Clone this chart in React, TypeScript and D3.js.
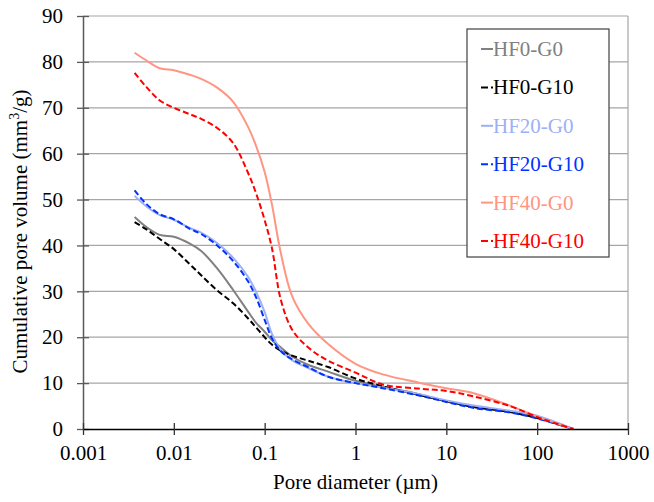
import React, { useEffect, useRef } from "react";
import * as d3 from "d3";

// pore diameters (µm) where the curves were read
const diameters = [
  0.0037, 0.005, 0.007, 0.01, 0.015, 0.02, 0.03, 0.045, 0.065, 0.08, 0.1,
  0.12, 0.15, 0.2, 0.3, 0.5, 1, 2, 5, 10, 20, 50, 100, 150, 250,
];

const hf0g0 = [
  46.2, 44.0, 42.3, 41.9, 40.4, 38.8, 35.0, 30.3, 25.7, 23.2, 21.2, 19.4,
  17.8, 15.8, 14.0, 12.5, 10.5, 9.2, 7.6, 6.0, 4.9, 3.8, 2.6, 1.5, 0,
];
const hf0g10 = [
  45.1, 43.5, 41.4, 39.2, 35.9, 33.5, 30.2, 27.4, 24.2, 22.2, 20.0, 18.4,
  17.1, 16.0, 14.9, 13.5, 11.0, 9.3, 7.4, 6.1, 4.8, 3.7, 2.4, 1.4, 0,
];
const hf20g0 = [
  50.8, 48.5, 46.6, 45.6, 43.8, 42.8, 40.5, 37.3, 33.3, 30.0, 25.5, 20.8,
  17.3, 15.0, 13.3, 11.4, 10.0, 9.0, 7.6, 6.2, 5.1, 4.0, 2.9, 1.7, 0,
];
const hf20g10 = [
  52.0, 49.0, 46.8, 45.7, 43.6, 42.5, 40.0, 36.6, 32.3, 28.8, 23.8, 19.8,
  17.0, 15.2, 13.5, 11.4, 10.0, 8.9, 7.3, 5.9, 4.6, 3.6, 2.3, 1.3, 0,
];
const hf40g0 = [
  82.0, 80.3, 78.6, 78.2, 77.2, 76.3, 74.4, 71.3, 66.0, 61.8, 56.0, 49.0,
  38.5, 29.0, 23.0, 18.5, 14.2, 11.9, 10.1, 8.9, 7.8, 5.1, 2.7, 1.5, 0,
];
const hf40g10 = [
  77.6, 74.5, 71.6, 70.0, 68.6, 67.6, 65.6, 62.3, 56.0, 51.5, 45.5, 39.5,
  28.3, 21.7, 17.8, 14.9, 12.3, 9.7, 8.8, 8.3, 7.1, 5.0, 2.6, 1.4, 0,
];

const seriesNames = ["HF0-G0", "HF0-G10", "HF20-G0", "HF20-G10", "HF40-G0", "HF40-G10"];
const seriesValues = [hf0g0, hf0g10, hf20g0, hf20g10, hf40g0, hf40g10];
const seriesColors = ["#808080", "#000000", "#9db0f7", "#0033ff", "#ff9582", "#ff0000"];
const seriesDashed = [false, true, false, true, false, true];

const xTicks = [0.001, 0.01, 0.1, 1, 10, 100, 1000];
const yTicks = [0, 10, 20, 30, 40, 50, 60, 70, 80, 90];

const FONT = '"Liberation Serif", "Times New Roman", serif';

const Chart = () => {
  const ref = useRef<SVGSVGElement>(null);

  useEffect(() => {
    const width = 654;
    const height = 502;
    const margin = { top: 16, right: 26, bottom: 73, left: 83 };
    const innerW = width - margin.left - margin.right;
    const innerH = height - margin.top - margin.bottom;

    const svg = d3.select(ref.current);
    svg.selectAll("*").remove();
    svg.style("font-family", FONT);

    const g = svg
      .append("g")
      .attr("transform", `translate(${margin.left},${margin.top})`);

    const x = d3.scaleLog().domain([0.001, 1000]).range([0, innerW]);
    const y = d3.scaleLinear().domain([0, 90]).range([innerH, 0]);

    // horizontal grid lines
    g.append("g")
      .selectAll("line")
      .data(yTicks.filter((t) => t > 0))
      .join("line")
      .attr("x1", 0)
      .attr("x2", innerW)
      .attr("y1", (d) => y(d))
      .attr("y2", (d) => y(d))
      .attr("stroke", "#a6a6a6")
      .attr("stroke-width", 1.2);

    // right border of plot area
    g.append("line")
      .attr("x1", innerW)
      .attr("x2", innerW)
      .attr("y1", 0)
      .attr("y2", innerH)
      .attr("stroke", "#a6a6a6")
      .attr("stroke-width", 1.2);

    // curves
    const line = d3
      .line<number>()
      .x((_, i) => x(diameters[i]))
      .y((d) => y(d))
      .curve(d3.curveCatmullRom.alpha(0.5));

    seriesValues.forEach((vals, i) => {
      g.append("path")
        .datum(vals)
        .attr("d", line)
        .attr("fill", "none")
        .attr("stroke", seriesColors[i])
        .attr("stroke-width", 2)
        .attr("stroke-dasharray", seriesDashed[i] ? "6,3" : null);
    });

    // y axis
    const yAxis = g
      .append("g")
      .call(d3.axisLeft(y).tickValues(yTicks).tickSize(6).tickPadding(14).tickSizeOuter(0));
    yAxis.attr("font-family", null).attr("font-size", null);
    yAxis.select(".domain").attr("stroke", "#595959").attr("stroke-width", 1.5);
    yAxis
      .selectAll(".tick line")
      .attr("x1", 6)
      .attr("x2", -6)
      .attr("stroke", "#595959")
      .attr("stroke-width", 1.3);
    yAxis
      .selectAll("text")
      .style("font-family", FONT)
      .style("font-size", "21px")
      .attr("fill", "#000");

    // x axis
    const xAxis = g
      .append("g")
      .attr("transform", `translate(0,${innerH})`)
      .call(
        d3
          .axisBottom(x)
          .tickValues(xTicks)
          .tickFormat((d) => String(d))
          .tickSize(6)
          .tickPadding(10)
          .tickSizeOuter(0)
      );
    xAxis.attr("font-family", null).attr("font-size", null);
    xAxis.select(".domain").attr("stroke", "#000").attr("stroke-width", 1.5);
    xAxis
      .selectAll(".tick line")
      .attr("y1", -6)
      .attr("y2", 6)
      .attr("stroke", "#333")
      .attr("stroke-width", 1.3);
    xAxis
      .selectAll("text")
      .style("font-family", FONT)
      .style("font-size", "21px")
      .attr("fill", "#000");

    // axis titles
    svg
      .append("text")
      .attr("x", margin.left + innerW / 2)
      .attr("y", 489)
      .attr("text-anchor", "middle")
      .style("font-family", FONT)
      .style("font-size", "21px")
      .text("Pore diameter (µm)");

    const yTitle = svg
      .append("text")
      .attr("transform", `translate(27,${margin.top + innerH / 2 + 9}) rotate(-90)`)
      .attr("text-anchor", "middle")
      .style("font-family", FONT)
      .style("font-size", "21px");
    yTitle.append("tspan").text("Cumulative pore volume (mm");
    yTitle.append("tspan").style("font-size", "14px").attr("dy", -8).text("3");
    yTitle.append("tspan").attr("dy", 8).text("/g)");

    // legend
    const legend = svg.append("g").attr("transform", "translate(467,29)");
    legend
      .append("rect")
      .attr("width", 142)
      .attr("height", 228)
      .attr("fill", "#fff")
      .attr("stroke", "#404040")
      .attr("stroke-width", 1.2);

    seriesNames.forEach((name, i) => {
      const cy = 20 + i * 38.4;
      legend
        .append("line")
        .attr("x1", 14)
        .attr("x2", 26)
        .attr("y1", cy)
        .attr("y2", cy)
        .attr("stroke", seriesColors[i])
        .attr("stroke-width", 2)
        .attr("stroke-dasharray", seriesDashed[i] ? "7,3,2" : null);
      legend
        .append("text")
        .attr("x", 26)
        .attr("y", cy + 7)
        .style("font-family", FONT)
        .style("font-size", "21px")
        .attr("fill", seriesColors[i])
        .text(name);
    });
  }, []);

  return <svg ref={ref} width={654} height={502} style={{ display: "block" }} />;
};

export default function App() {
  return (
    <div style={{ position: "absolute", left: 0, top: 0, background: "#fff" }}>
      <Chart />
    </div>
  );
}
